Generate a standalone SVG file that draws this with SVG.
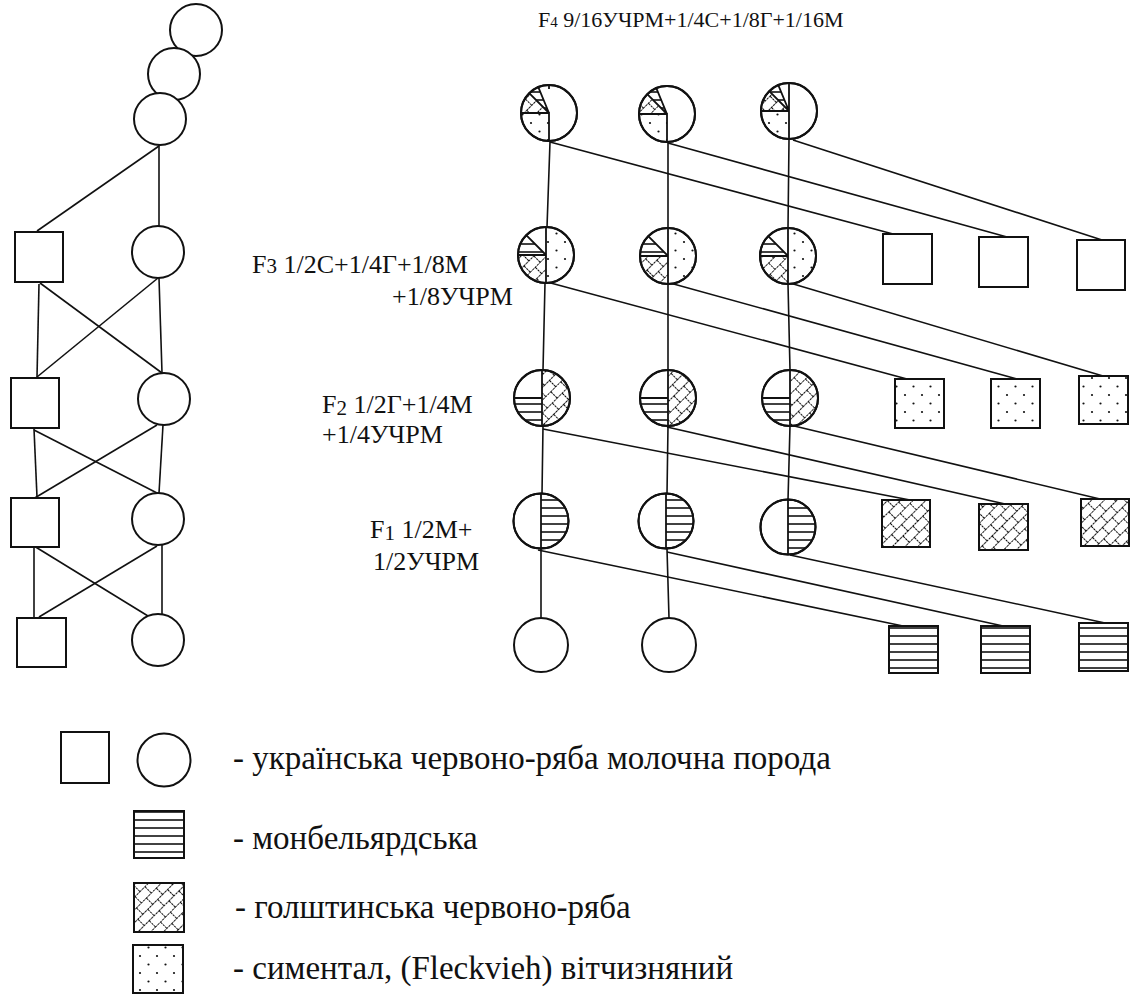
<svg xmlns="http://www.w3.org/2000/svg" width="1138" height="994" viewBox="0 0 1138 994">
<style>
.ln{stroke:#111;stroke-width:1.6;fill:none}
.sh{stroke:#111;stroke-width:2;fill:#fff}
.dv{stroke:#111;stroke-width:1.8;fill:none}
.tx{font-family:"Liberation Serif","Times New Roman",serif;fill:#111}
.lb{font-size:26px}
.tt{font-size:22px}
.lg{font-size:33px}
</style>
<defs>
<pattern id="dots" patternUnits="userSpaceOnUse" width="17" height="17">
<circle cx="4" cy="4" r="1.1" fill="#111"/>
<circle cx="12.5" cy="12.5" r="1.1" fill="#111"/>
</pattern>
<pattern id="hatch" patternUnits="userSpaceOnUse" width="14" height="18" patternTransform="rotate(-45)">
<g stroke="#111" stroke-width="1" stroke-dasharray="2.5 0.8">
<line x1="0" y1="0.5" x2="14" y2="0.5"/>
<line x1="0" y1="9.5" x2="14" y2="9.5"/>
<line x1="0.5" y1="0.5" x2="0.5" y2="9.5"/>
<line x1="7.5" y1="9.5" x2="7.5" y2="18.5"/>
</g>
</pattern>
<pattern id="stripes" patternUnits="userSpaceOnUse" width="10" height="8">
<line x1="0" y1="4" x2="10" y2="4" stroke="#111" stroke-width="1.6"/>
</pattern>
</defs>

<g id="connectors" class="ln">
<!-- left tree -->
<line x1="159" y1="146" x2="37" y2="231"/>
<line x1="159" y1="144" x2="159" y2="226"/>
<line x1="39" y1="284" x2="37" y2="377"/>
<line x1="40" y1="283" x2="162" y2="373"/>
<line x1="158" y1="278" x2="37" y2="377"/>
<line x1="159" y1="278" x2="162" y2="373"/>
<line x1="34" y1="429" x2="37" y2="497"/>
<line x1="34" y1="430" x2="157" y2="493"/>
<line x1="157" y1="425" x2="33" y2="499"/>
<line x1="163" y1="425" x2="159" y2="493"/>
<line x1="34" y1="547" x2="34" y2="617"/>
<line x1="34" y1="546" x2="148" y2="616"/>
<line x1="157" y1="546" x2="39" y2="617"/>
<line x1="162" y1="545" x2="162" y2="614"/>
<!-- right verticals -->
<polyline points="550,142 547,227 545,283 543,370 543,426 542,494 541,549 541,618"/>
<polyline points="668,143 668,228 668,284 668,370 668,426 667,494 667,549 669,618"/>
<polyline points="789,140 788,228 788,284 790,370 790,426 788,500"/>
<!-- diagonals -->
<line x1="550" y1="142" x2="893" y2="234"/>
<line x1="668" y1="143" x2="1007" y2="237"/>
<line x1="793" y1="140" x2="1102" y2="240"/>
<line x1="547" y1="282" x2="907" y2="379"/>
<line x1="670" y1="283" x2="1017" y2="379"/>
<line x1="790" y1="283" x2="1103" y2="376"/>
<line x1="543" y1="429" x2="910" y2="500"/>
<line x1="667" y1="427" x2="1005" y2="504"/>
<line x1="790" y1="425" x2="1100" y2="499"/>
<line x1="538" y1="550" x2="903" y2="626"/>
<line x1="667" y1="552" x2="1003" y2="626"/>
<line x1="790" y1="555" x2="1105" y2="623"/>
</g>

<!-- left tree nodes -->
<g id="l-top1"><circle class="sh" cx="196" cy="30" r="26"/></g>
<g id="l-top2"><circle class="sh" cx="174" cy="74" r="26"/></g>
<g id="l-top3"><circle class="sh" cx="160" cy="119" r="26"/></g>
<g id="l-sq1"><rect class="sh" x="15" y="232" width="48" height="50"/></g>
<g id="l-c1"><circle class="sh" cx="158" cy="252" r="26"/></g>
<g id="l-sq2"><rect class="sh" x="11" y="378" width="48" height="50"/></g>
<g id="l-c2"><circle class="sh" cx="164" cy="399" r="26"/></g>
<g id="l-sq3"><rect class="sh" x="11" y="498" width="48" height="49"/></g>
<g id="l-c3"><circle class="sh" cx="158" cy="519" r="26"/></g>
<g id="l-sq4"><rect class="sh" x="17" y="618" width="49" height="49"/></g>
<g id="l-c4"><circle class="sh" cx="158" cy="640" r="26"/></g>

<!-- F4 circles -->
<g id="f4-1">
<circle class="sh" cx="549" cy="113" r="28"/>
<path d="M549,113 L521,113 A28,28 0 0 0 549,141 Z" fill="url(#dots)"/>
<path d="M549,113 L521,113 A28,28 0 0 1 529.2,93.2 Z" fill="url(#hatch)"/>
<path d="M549,113 L529.2,93.2 A28,28 0 0 1 538.3,87.1 Z" fill="url(#stripes)"/>
<path class="dv" d="M521,113 H549 V141 M549,113 L529.2,93.2 M549,113 L538.3,87.1 M549,85 V89"/>
<circle cx="549" cy="113" r="28" fill="none" stroke="#111" stroke-width="2"/>
</g>
<g id="f4-2">
<circle class="sh" cx="667" cy="114" r="28"/>
<path d="M667,114 L639,114 A28,28 0 0 0 667,142 Z" fill="url(#dots)"/>
<path d="M667,114 L639,114 A28,28 0 0 1 647.2,94.2 Z" fill="url(#hatch)"/>
<path d="M667,114 L647.2,94.2 A28,28 0 0 1 656.3,88.1 Z" fill="url(#stripes)"/>
<path class="dv" d="M639,114 H667 V142 M667,114 L647.2,94.2 M667,114 L656.3,88.1"/>
<circle cx="667" cy="114" r="28" fill="none" stroke="#111" stroke-width="2"/>
</g>
<g id="f4-3">
<circle class="sh" cx="789" cy="111" r="28"/>
<path d="M789,111 L761,111 A28,28 0 0 0 789,139 Z" fill="url(#dots)"/>
<path d="M789,111 L761,111 A28,28 0 0 1 769.2,91.2 Z" fill="url(#hatch)"/>
<path d="M789,111 L769.2,91.2 A28,28 0 0 1 778.3,85.1 Z" fill="url(#stripes)"/>
<path class="dv" d="M761,111 H789 M789,83 V139 M789,111 L769.2,91.2 M789,111 L778.3,85.1"/>
<circle cx="789" cy="111" r="28" fill="none" stroke="#111" stroke-width="2"/>
</g>

<!-- F3 circles -->
<g id="f3-1">
<circle class="sh" cx="546" cy="255" r="28"/>
<path d="M546,227 A28,28 0 0 1 546,283 Z" fill="url(#dots)"/>
<path d="M546,255 L518,255 A28,28 0 0 0 546,283 Z" fill="url(#hatch)"/>
<path d="M546,255 L518,255 A28,28 0 0 1 526.2,235.2 Z" fill="url(#stripes)"/>
<path class="dv" d="M546,227 V283 M518,255 H546 M546,255 L526.2,235.2" stroke-width="2.4"/>
<circle cx="546" cy="255" r="28" fill="none" stroke="#111" stroke-width="2"/>
</g>
<g id="f3-2">
<circle class="sh" cx="668" cy="256" r="28"/>
<path d="M668,228 A28,28 0 0 1 668,284 Z" fill="url(#dots)"/>
<path d="M668,256 L640,256 A28,28 0 0 0 668,284 Z" fill="url(#hatch)"/>
<path d="M668,256 L640,256 A28,28 0 0 1 648.2,236.2 Z" fill="url(#stripes)"/>
<path class="dv" d="M668,228 V284 M640,256 H668 M668,256 L648.2,236.2" stroke-width="2.4"/>
<circle cx="668" cy="256" r="28" fill="none" stroke="#111" stroke-width="2"/>
</g>
<g id="f3-3">
<circle class="sh" cx="788" cy="256" r="28"/>
<path d="M788,228 A28,28 0 0 1 788,284 Z" fill="url(#dots)"/>
<path d="M788,256 L760,256 A28,28 0 0 0 788,284 Z" fill="url(#hatch)"/>
<path d="M788,256 L760,256 A28,28 0 0 1 768.2,236.2 Z" fill="url(#stripes)"/>
<path class="dv" d="M788,228 V284 M760,256 H788 M788,256 L768.2,236.2" stroke-width="2.4"/>
<circle cx="788" cy="256" r="28" fill="none" stroke="#111" stroke-width="2"/>
</g>

<!-- F2 circles -->
<g id="f2-1">
<circle class="sh" cx="542" cy="398" r="28"/>
<path d="M542,370 A28,28 0 0 1 542,426 Z" fill="url(#hatch)"/>
<path d="M542,398 L514,398 A28,28 0 0 0 542,426 Z" fill="url(#stripes)"/>
<path class="dv" d="M542,370 V426 M514,398 H542"/>
<circle cx="542" cy="398" r="28" fill="none" stroke="#111" stroke-width="2"/>
</g>
<g id="f2-2">
<circle class="sh" cx="668" cy="398" r="28"/>
<path d="M668,370 A28,28 0 0 1 668,426 Z" fill="url(#hatch)"/>
<path d="M668,398 L640,398 A28,28 0 0 0 668,426 Z" fill="url(#stripes)"/>
<path class="dv" d="M668,370 V426 M640,398 H668"/>
<circle cx="668" cy="398" r="28" fill="none" stroke="#111" stroke-width="2"/>
</g>
<g id="f2-3">
<circle class="sh" cx="790" cy="398" r="28"/>
<path d="M790,370 A28,28 0 0 1 790,426 Z" fill="url(#hatch)"/>
<path d="M790,398 L762,398 A28,28 0 0 0 790,426 Z" fill="url(#stripes)"/>
<path class="dv" d="M790,370 V426 M762,398 H790"/>
<circle cx="790" cy="398" r="28" fill="none" stroke="#111" stroke-width="2"/>
</g>

<!-- F1 circles -->
<g id="f1-1">
<circle class="sh" cx="541" cy="521" r="27.5"/>
<path d="M541,493.5 A27.5,27.5 0 0 1 541,548.5 Z" fill="url(#stripes)"/>
<path class="dv" d="M541,493.5 V548.5"/>
<circle cx="541" cy="521" r="27.5" fill="none" stroke="#111" stroke-width="2"/>
</g>
<g id="f1-2">
<circle class="sh" cx="666" cy="521" r="27.5"/>
<path d="M666,493.5 A27.5,27.5 0 0 1 666,548.5 Z" fill="url(#stripes)"/>
<path class="dv" d="M666,493.5 V548.5"/>
<circle cx="666" cy="521" r="27.5" fill="none" stroke="#111" stroke-width="2"/>
</g>
<g id="f1-3">
<circle class="sh" cx="788" cy="527" r="27.5"/>
<path d="M788,499.5 A27.5,27.5 0 0 1 788,554.5 Z" fill="url(#stripes)"/>
<path class="dv" d="M788,499.5 V554.5"/>
<circle cx="788" cy="527" r="27.5" fill="none" stroke="#111" stroke-width="2"/>
</g>

<!-- bottom circles -->
<g id="b-1"><circle class="sh" cx="541" cy="645" r="27"/></g>
<g id="b-2"><circle class="sh" cx="669" cy="645" r="27"/></g>

<!-- right squares -->
<g id="s3-1"><rect class="sh" x="883" y="234" width="49" height="50"/></g>
<g id="s3-2"><rect class="sh" x="979" y="237" width="49" height="50"/></g>
<g id="s3-3"><rect class="sh" x="1077" y="240" width="48" height="50"/></g>
<g id="s2-1"><rect class="sh" x="895" y="379" width="49" height="49"/><rect x="895" y="379" width="49" height="49" fill="url(#dots)"/></g>
<g id="s2-2"><rect class="sh" x="991" y="379" width="49" height="49"/><rect x="991" y="379" width="49" height="49" fill="url(#dots)"/></g>
<g id="s2-3"><rect class="sh" x="1079" y="376" width="49" height="48"/><rect x="1079" y="376" width="49" height="48" fill="url(#dots)"/></g>
<g id="s1-1"><rect class="sh" x="882" y="500" width="48" height="47"/><rect x="882" y="500" width="48" height="47" fill="url(#hatch)" stroke="#111" stroke-width="2"/></g>
<g id="s1-2"><rect class="sh" x="979" y="504" width="49" height="46"/><rect x="979" y="504" width="49" height="46" fill="url(#hatch)" stroke="#111" stroke-width="2"/></g>
<g id="s1-3"><rect class="sh" x="1081" y="499" width="48" height="47"/><rect x="1081" y="499" width="48" height="47" fill="url(#hatch)" stroke="#111" stroke-width="2"/></g>
<g id="s0-1"><rect class="sh" x="889" y="626" width="49" height="47"/><rect x="889" y="626" width="49" height="47" fill="url(#stripes)" stroke="#111" stroke-width="2"/></g>
<g id="s0-2"><rect class="sh" x="981" y="626" width="49" height="47"/><rect x="981" y="626" width="49" height="47" fill="url(#stripes)" stroke="#111" stroke-width="2"/></g>
<g id="s0-3"><rect class="sh" x="1079" y="623" width="49" height="48"/><rect x="1079" y="623" width="49" height="48" fill="url(#stripes)" stroke="#111" stroke-width="2"/></g>

<!-- labels -->
<g id="label-f4"><text class="tx tt" x="538" y="27">F<tspan font-size="15">4</tspan> 9/16УЧРМ+1/4С+1/8Г+1/16М</text></g>
<g id="label-f3"><text class="tx lb" x="252" y="273">F<tspan font-size="21">3</tspan> 1/2С+1/4Г+1/8М</text>
<text class="tx lb" x="392" y="305">+1/8УЧРМ</text></g>
<g id="label-f2"><text class="tx lb" x="322" y="413">F<tspan font-size="21" dy="2">2</tspan><tspan dy="-2"> 1/2Г+1/4М</tspan></text>
<text class="tx lb" x="322" y="443">+1/4УЧРМ</text></g>
<g id="label-f1"><text class="tx lb" x="370" y="538">F<tspan font-size="21" dy="2">1</tspan><tspan dy="-2"> 1/2М+</tspan></text>
<text class="tx lb" x="373" y="570">1/2УЧРМ</text></g>

<!-- legend -->
<g id="legend-uchrm">
<rect class="sh" x="61" y="732" width="48" height="51"/>
<circle class="sh" cx="164" cy="760" r="26.5"/>
<text class="tx lg" x="233" y="769">- українська червоно-ряба молочна порода</text>
</g>
<g id="legend-m">
<rect x="134" y="811" width="50" height="47" fill="url(#stripes)" stroke="#111" stroke-width="2"/>
<text class="tx lg" x="233" y="849">- монбельярдська</text>
</g>
<g id="legend-g">
<rect x="134" y="883" width="50" height="49" fill="url(#hatch)" stroke="#111" stroke-width="2"/>
<text class="tx lg" x="235" y="918">- голштинська червоно-ряба</text>
</g>
<g id="legend-s">
<rect x="133" y="945" width="50" height="48" fill="url(#dots)" stroke="#111" stroke-width="2"/>
<text class="tx lg" x="233" y="979">- симентал, (Fleckvieh) вітчизняний</text>
</g>
</svg>
